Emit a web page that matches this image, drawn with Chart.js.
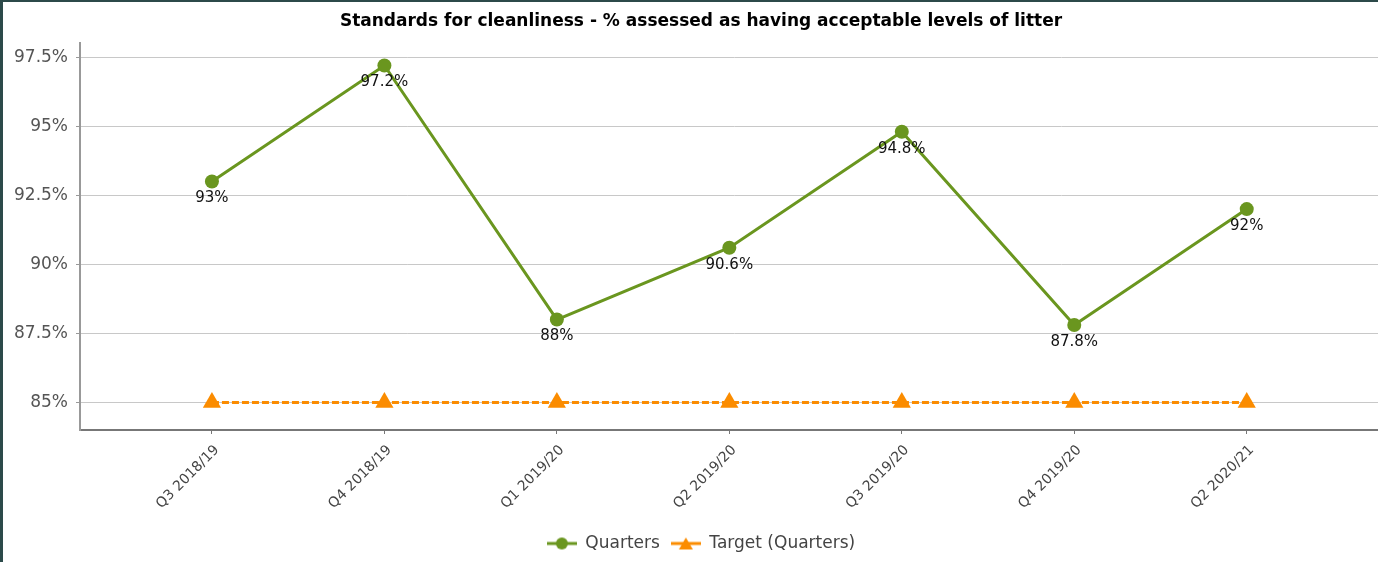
<!DOCTYPE html>
<html>
<head>
<meta charset="utf-8">
<script src="https://cdn.jsdelivr.net/npm/chart.js@4.4.0/dist/chart.umd.min.js"></script>
<style>
    html, body { margin: 0; padding: 0; background: #fff; overflow: hidden; }
    #wrap {
        width: 1396px;
        height: 560px;
        border-top: 2px solid #2c4a4a;
        border-left: 3px solid #2c4a4a;
    }
</style>
</head>
<body>
<div id="wrap"><canvas id="chart" width="1396" height="560"></canvas></div>
<script>
const quarterLabels = ['Q3 2018/19', 'Q4 2018/19', 'Q1 2019/20', 'Q2 2019/20', 'Q3 2019/20', 'Q4 2019/20', 'Q2 2020/21'];
const quarterValues = [93, 97.2, 88, 90.6, 94.8, 87.8, 92];
const targetValues = [85, 85, 85, 85, 85, 85, 85];
const yTickValues = [85, 87.5, 90, 92.5, 95, 97.5];

const green = '#6a961f';
const orange = '#fb8c00';
const font = '"DejaVu Sans", Verdana, sans-serif';

// small line + marker pictures for the legend
function legendMarker(color, shape) {
    const c = document.createElement('canvas');
    c.width = 30;
    c.height = 16;
    const g = c.getContext('2d');
    g.strokeStyle = color;
    g.fillStyle = color;
    g.lineWidth = 3;
    g.beginPath();
    g.moveTo(0, 8);
    g.lineTo(30, 8);
    g.stroke();
    g.beginPath();
    if (shape === 'circle') {
        g.arc(15, 8, 6, 0, Math.PI * 2);
    } else {
        g.moveTo(15, 2);
        g.lineTo(22, 14);
        g.lineTo(8, 14);
        g.closePath();
    }
    g.fill();
    return c;
}
const legendMarkers = [legendMarker(green, 'circle'), legendMarker(orange, 'triangle')];

// value labels under the Quarters points
const valueLabels = {
    id: 'valueLabels',
    afterDatasetsDraw(chart) {
        const meta = chart.getDatasetMeta(0);
        const ctx = chart.ctx;
        ctx.save();
        ctx.font = '15px ' + font;
        ctx.fillStyle = '#111';
        ctx.textAlign = 'center';
        ctx.textBaseline = 'middle';
        meta.data.forEach((pt, i) => {
            ctx.fillText(quarterValues[i] + '%', pt.x, pt.y + 17);
        });
        ctx.restore();
    }
};

const ctx = document.getElementById('chart').getContext('2d');
new Chart(ctx, {
    type: 'line',
    data: {
        datasets: [{
            label: 'Quarters',
            data: quarterValues.map((v, i) => ({ x: i, y: v })),
            borderColor: green,
            backgroundColor: green,
            borderWidth: 3,
            pointRadius: 7,
            pointHoverRadius: 7,
            pointBorderWidth: 0,
            tension: 0
        }, {
            label: 'Target (Quarters)',
            data: targetValues.map((v, i) => ({ x: i, y: v })),
            borderColor: orange,
            backgroundColor: orange,
            borderWidth: 3,
            borderDash: [7, 3],
            pointStyle: 'triangle',
            pointRadius: 10.5,
            pointHoverRadius: 10.5,
            pointBorderWidth: 0,
            tension: 0
        }]
    },
    options: {
        responsive: false,
        animation: false,
        layout: { padding: 0 },
        scales: {
            x: {
                type: 'linear',
                min: -0.765,
                max: 6.822,
                afterBuildTicks: scale => {
                    scale.ticks = quarterLabels.map((_, i) => ({ value: i }));
                },
                afterFit: scale => {
                    scale.height = 94;
                    scale.paddingLeft = 0;
                    scale.paddingRight = 0;
                },
                grid: {
                    display: true,
                    drawOnChartArea: false,
                    drawTicks: true,
                    tickLength: 4,
                    tickColor: '#777'
                },
                border: { display: true, color: '#777', width: 2 },
                ticks: {
                    autoSkip: false,
                    minRotation: 45,
                    maxRotation: 45,
                    padding: 8,
                    labelOffset: 5,
                    color: '#444',
                    font: { family: font, size: 14 },
                    callback: value => quarterLabels[value]
                }
            },
            y: {
                min: 84,
                max: 98,
                afterBuildTicks: scale => {
                    scale.ticks = yTickValues.map(v => ({ value: v }));
                },
                afterFit: scale => { scale.width = 77; },
                grid: {
                    color: '#c8c8c8',
                    lineWidth: 1,
                    tickLength: 4,
                    tickColor: '#999'
                },
                border: { display: true, color: '#999', width: 2 },
                ticks: {
                    padding: 8,
                    color: '#555',
                    font: { family: font, size: 17 },
                    callback: value => value + '%'
                }
            }
        },
        plugins: {
            title: {
                display: true,
                text: 'Standards for cleanliness - % assessed as having acceptable levels of litter',
                color: '#000',
                font: { family: font, size: 17, weight: 'bold' },
                padding: { top: 9, bottom: 12 }
            },
            legend: {
                position: 'bottom',
                labels: {
                    usePointStyle: true,
                    pointStyleWidth: 30,
                    padding: 11,
                    color: '#444',
                    font: { family: font, size: 17 },
                    generateLabels: chart => {
                        const items = Chart.defaults.plugins.legend.labels.generateLabels(chart);
                        items.forEach((item, i) => { item.pointStyle = legendMarkers[i]; });
                        return items;
                    }
                }
            },
            tooltip: { enabled: false }
        }
    },
    plugins: [valueLabels]
});
</script>
</body>
</html>
